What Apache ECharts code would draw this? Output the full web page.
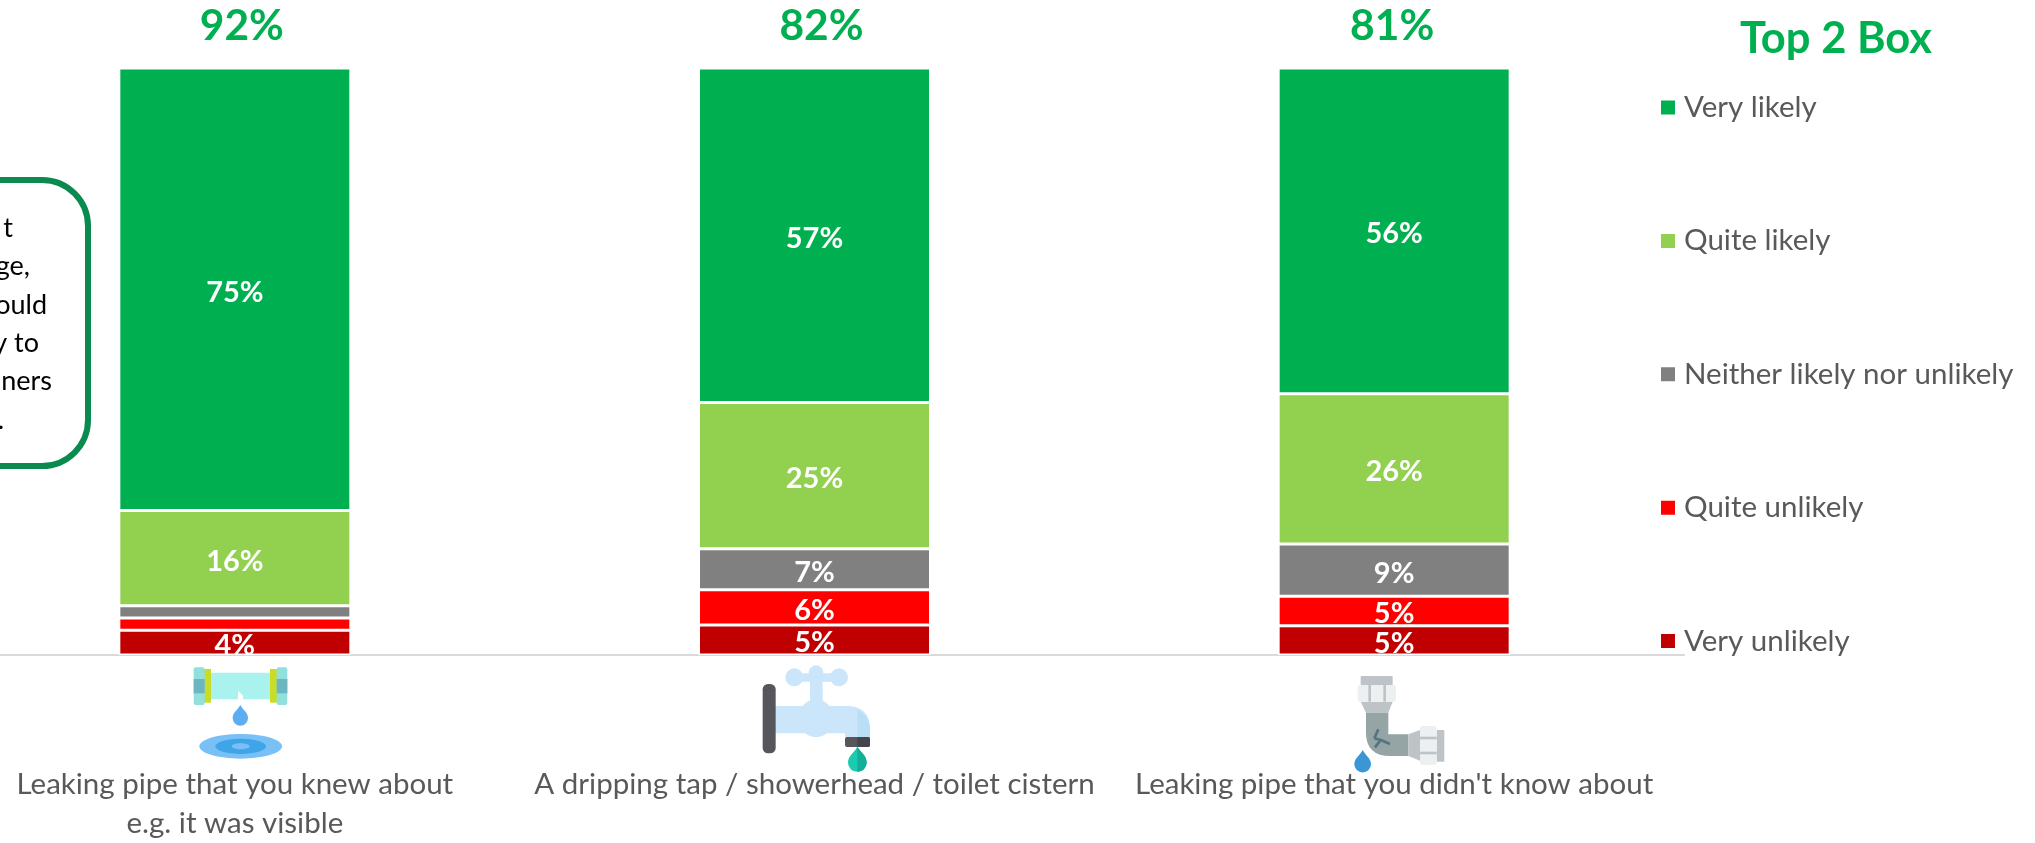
<!DOCTYPE html>
<html>
<head>
<meta charset="utf-8">
<style>html,body{margin:0;padding:0;background:#fff;overflow:hidden}#chart{width:2035px;height:843px}</style>
<script src="https://cdn.jsdelivr.net/npm/echarts@6/dist/echarts.min.js"></script>
</head>
<body>
<div id="chart"></div>
<script>
const FONT = 'Lato';
const categories = ['Leaking pipe that you knew about\ne.g. it was visible', 'A dripping tap / showerhead / toilet cistern', "Leaking pipe that you didn't know about"];
const seriesNames = ['Very unlikely', 'Quite unlikely', 'Neither likely nor unlikely', 'Quite likely', 'Very likely'];
const legendOrder = ['Very likely', 'Quite likely', 'Neither likely nor unlikely', 'Quite unlikely', 'Very unlikely'];
const veryUnlikely = [4.2, 5.1, 5.0];
const quiteUnlikely = [2.1, 6.0, 5.0];
const neither = [2.1, 7.0, 8.9];
const quiteLikely = [16.2, 24.9, 25.6];
const veryLikely = [75.4, 57.0, 55.5];
const top2Box = [92, 82, 81];
const seriesColors = ['#C00000', '#FF0000', '#808080', '#92D050', '#00B050'];
const seriesValues = [veryUnlikely, quiteUnlikely, neither, quiteLikely, veryLikely];
const calloutFragments = ['t', 'ge,', 'ould', 'y to', 'ners', '.'];
const calloutRightEdges = [13, 30, 47, 39, 52, 4];
// The total labels sit slightly off their bars' centres.
const totalLabelShift = [7, 7, -2];

// Small helpers for the decorative icons, drawn in a 3x local unit space.
let pathCount = 0;
const p = (d, style) => {
  const type = 'iconPath' + (pathCount++);
  echarts.graphic.registerShape(type, echarts.graphic.extendPath(d));
  return {type, style: typeof style === 'string' ? {fill: style} : style};
};
const r = (x, y, w, h, fill, rad) => ({type: 'rect', shape: {x, y, width: w, height: h, r: rad || 0}, style: {fill}});
const c = (cx, cy, rad, fill) => ({type: 'circle', shape: {cx, cy, r: rad}, style: {fill}});
const e = (cx, cy, rx, ry, fill) => ({type: 'ellipse', shape: {cx, cy, rx, ry}, style: {fill}});
const icon = (x, y, children) => ({type: 'group', x, y, scaleX: 1 / 3, scaleY: 1 / 3, children});
const drop = (cx, top, rad) => `M${cx} ${top}C${cx + rad * 0.35} ${top + rad * 0.7} ${cx + rad} ${top + rad * 0.95} ${cx + rad} ${top + rad * 1.7}A${rad} ${rad} 0 1 1 ${cx - rad} ${top + rad * 1.7}C${cx - rad} ${top + rad * 0.95} ${cx - rad * 0.35} ${top + rad * 0.7} ${cx} ${top}Z`;

const pipeIcon = icon(100, 590, [
  r(330, 248, 182, 80, '#A9F2EE'),
  p('M413 328L415 302L430 318L428 328Z', '#ffffff'),
  r(312, 237, 21, 101, '#C8DC28'), r(510, 237, 21, 101, '#C8DC28'),
  r(281, 232, 33, 113, '#92E0DE', 6), r(530, 232, 32, 113, '#92E0DE', 6),
  r(281, 267, 33, 43, '#6DB6C0'), r(530, 267, 32, 43, '#6DB6C0'),
  p(drop(421, 345, 23), '#5CADF2'),
  e(422, 469, 124, 37, '#79C0F7'), e(422, 469, 76, 23, '#3FA5E8'), e(422, 469, 27, 9, '#79C0F7')
]);

const tapIcon = icon(680, 590, [
  r(390, 255, 38, 90, '#CBE6FA'),
  r(343, 250, 134, 25, '#CBE6FA'),
  c(343, 262, 27, '#CBE6FA'), c(408, 248, 22, '#CBE6FA'), c(477, 262, 27, '#CBE6FA'),
  p('M280 348L505 348Q570 350 570 420L570 442L495 442L495 430L280 430Z', '#CBE6FA'),
  e(408, 385, 52, 57, '#CBE6FA'),
  p('M532 360Q570 375 570 420L570 442L532 442Z', '#B8DFF6'),
  r(248, 282, 39, 208, '#57565C', 16),
  r(495, 441, 75, 30, '#57565C', 6),
  r(532, 441, 38, 30, '#45444A', 6),
  p(drop(532, 470, 28), '#1ACBB0'),
  p('M532 470C545 490 560 495 560 518A28 28 0 0 1 532 546Z', '#12AE97')
]);

const elbowIcon = icon(1260, 590, [
  r(302, 258, 96, 28, '#BDC3C7', 3),
  p('M302 335L398 335L385 368L318 368Z', '#BDC3C7'),
  r(293, 285, 115, 50, '#ECF0F1', 8),
  r(325, 285, 8, 50, '#BDC3C7'), r(370, 285, 8, 50, '#BDC3C7'),
  p('M318 368L385 368L385 433L445 433L445 498L392 498Q318 498 318 428Z', '#95A5A5'),
  p('M343 445L355 418M343 445L362 450L345 472M362 450L390 462', {fill: 'none', stroke: '#547580', lineWidth: 8}),
  p('M445 433L480 420L480 512L445 498Z', '#BDC3C7'),
  r(530, 420, 23, 95, '#BDC3C7', 3),
  r(480, 408, 50, 117, '#ECF0F1', 8),
  r(480, 440, 50, 8, '#BDC3C7'), r(480, 485, 50, 8, '#BDC3C7'),
  p(drop(308, 480, 25), '#3B97D3')
]);

const calloutTexts = calloutFragments.map((text, i) => ({
  type: 'text', x: calloutRightEdges[i], y: 228 + i * 38.4,
  style: {text, fill: '#000000', font: `27px ${FONT}`, textAlign: 'right', textVerticalAlign: 'middle'}
}));

const chart = echarts.init(document.getElementById('chart'), null, {renderer: 'canvas'});
chart.setOption({
  animation: false,
  backgroundColor: '#ffffff',
  title: {
    text: 'Top 2 Box', left: 1740, top: 17, padding: 0,
    textStyle: {color: '#00B050', fontFamily: FONT, fontSize: 43.5, fontWeight: 'bold'}
  },
  legend: {
    orient: 'vertical', left: 1659, top: 92.5, padding: 0,
    data: legendOrder, icon: 'rect', itemWidth: 16, itemHeight: 16, itemGap: 103.4,
    selectedMode: false,
    textStyle: {color: '#595959', fontFamily: FONT, fontSize: 29.5, lineHeight: 16, padding: [0, 0, 0, 3]},
    formatter: n => n
  },
  grid: {left: -55, right: 351, top: 68, bottom: 188, outerBoundsMode: 'none'},
  xAxis: {
    type: 'category', data: categories,
    axisLine: {show: true, lineStyle: {color: '#D9D9D9', width: 2}},
    axisTick: {show: false},
    axisLabel: {color: '#595959', fontFamily: FONT, fontSize: 29.5, lineHeight: 39, margin: 110, interval: 0}
  },
  yAxis: {type: 'value', min: 0, max: 100, show: false},
  series: seriesNames.map((name, i) => ({
    name, type: 'bar', stack: 'likelihood', barWidth: 232,
    data: seriesValues[i],
    itemStyle: {color: seriesColors[i], borderColor: '#ffffff', borderWidth: 1.5},
    label: {
      show: true, position: 'inside', offset: [0, 3], color: '#ffffff', fontFamily: FONT, fontWeight: 'bold', fontSize: 29,
      formatter: o => (o.value >= 3 ? Math.round(o.value) + '%' : '')
    }
  })).concat([{
    name: 'Top 2 Box total', type: 'scatter', symbolSize: 0, silent: true,
    itemStyle: {opacity: 1},
    data: categories.map((cat, i) => ({value: [i, 100, top2Box[i]], label: {offset: [totalLabelShift[i], 0]}})),
    label: {
      show: true, position: 'top', distance: 20, color: '#00B050', fontFamily: FONT, fontWeight: 'bold', fontSize: 42.5,
      formatter: o => o.value[2] + '%'
    }
  }]),
  graphic: [
    {type: 'rect', shape: {x: -60, y: 180, width: 148, height: 286, r: 46}, style: {fill: '#ffffff', stroke: '#0A8A4E', lineWidth: 6}},
    ...calloutTexts,
    pipeIcon, tapIcon, elbowIcon
  ]
});
</script>
</body>
</html>
